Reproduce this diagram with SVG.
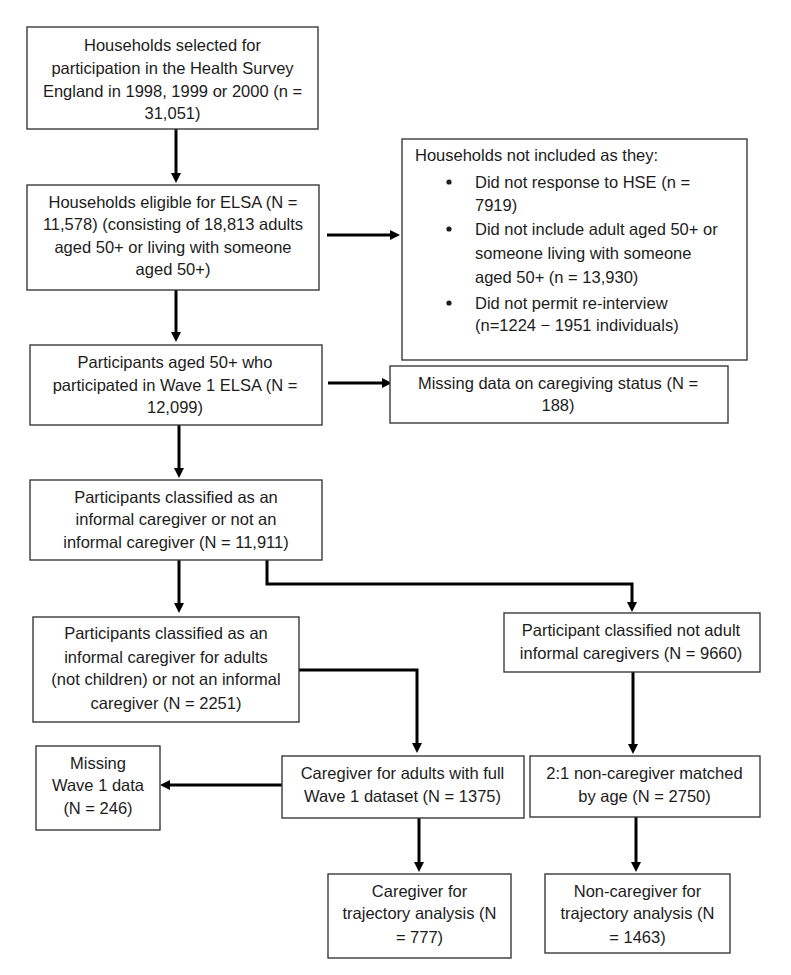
<svg xmlns="http://www.w3.org/2000/svg" width="791" height="975" viewBox="0 0 791 975">
<style>
.box{fill:#fff;stroke:#3a3a3a;stroke-width:1.4}
.t{font-family:"Liberation Sans",Arial,sans-serif;font-size:16.5px;fill:#1c1c1c;text-anchor:middle}
.tl{font-family:"Liberation Sans",Arial,sans-serif;font-size:16.5px;fill:#1c1c1c}
.c{fill:none;stroke:#000;stroke-width:3;marker-end:url(#ah)}
</style>
<defs>
<marker id="ah" markerUnits="userSpaceOnUse" viewBox="0 0 10 10" markerWidth="10" markerHeight="10" refX="1" refY="5" orient="auto">
<path d="M0,0 L10,5 L0,10 z" fill="#000"/>
</marker>
</defs>
<rect width="791" height="975" fill="#fff"/>
<g id="connectors">
<path class="c" d="M176,129 V174"/>
<path class="c" d="M327,235 H391"/>
<path class="c" d="M176,290 V333"/>
<path class="c" d="M328,383 H383"/>
<path class="c" d="M179,425 V469"/>
<path class="c" d="M267,560 V584 H632 V603"/>
<path class="c" d="M179,560 V604"/>
<path class="c" d="M299,670 H417 V744"/>
<path class="c" d="M282,785 H169"/>
<path class="c" d="M633,672 V745"/>
<path class="c" d="M419,818 V863"/>
<path class="c" d="M636,817 V863"/>
</g>
<g id="n1">
<rect class="box" x="27" y="27" width="291" height="102"/>
<text class="t" x="172.5" y="51">Households selected for</text>
<text class="t" x="172.5" y="74">participation in the Health Survey</text>
<text class="t" x="172.5" y="97">England in 1998, 1999 or 2000 (n =</text>
<text class="t" x="172.5" y="119">31,051)</text>
</g>
<g id="n2">
<rect class="box" x="27" y="185" width="292" height="105"/>
<text class="t" x="173" y="208">Households eligible for ELSA (N =</text>
<text class="t" x="173" y="230">11,578) (consisting of 18,813 adults</text>
<text class="t" x="173" y="253">aged 50+ or living with someone</text>
<text class="t" x="173" y="275">aged 50+)</text>
</g>
<g id="n3">
<rect class="box" x="402" y="139" width="345" height="221"/>
<text class="tl" x="415" y="161">Households not included as they:</text>
<circle cx="449" cy="182" r="2.6" fill="#1c1c1c"/>
<text class="tl" x="475" y="188">Did not response to HSE (n =</text>
<text class="tl" x="475" y="211">7919)</text>
<circle cx="449" cy="229" r="2.6" fill="#1c1c1c"/>
<text class="tl" x="475" y="235">Did not include adult aged 50+ or</text>
<text class="tl" x="475" y="259">someone living with someone</text>
<text class="tl" x="475" y="283">aged 50+ (n = 13,930)</text>
<circle cx="449" cy="303" r="2.6" fill="#1c1c1c"/>
<text class="tl" x="475" y="309">Did not permit re-interview</text>
<text class="tl" x="475" y="331">(n=1224 − 1951 individuals)</text>
</g>
<g id="n4">
<rect class="box" x="30" y="345" width="292" height="80"/>
<text class="t" x="175" y="368">Participants aged 50+ who</text>
<text class="t" x="175" y="391">participated in Wave 1 ELSA (N =</text>
<text class="t" x="175" y="413">12,099)</text>
</g>
<g id="n5">
<rect class="box" x="390" y="366" width="338" height="57"/>
<text class="t" x="558" y="389">Missing data on caregiving status (N =</text>
<text class="t" x="558" y="411">188)</text>
</g>
<g id="n6">
<rect class="box" x="30" y="480" width="292" height="80"/>
<text class="t" x="176" y="503">Participants classified as an</text>
<text class="t" x="176" y="525">informal caregiver or not an</text>
<text class="t" x="176" y="548">informal caregiver (N = 11,911)</text>
</g>
<g id="n7">
<rect class="box" x="504" y="613" width="256" height="59"/>
<text class="t" x="631" y="636">Participant classified not adult</text>
<text class="t" x="631" y="659">informal caregivers (N = 9660)</text>
</g>
<g id="n8">
<rect class="box" x="33" y="617" width="266" height="105"/>
<text class="t" x="166" y="639">Participants classified as an</text>
<text class="t" x="166" y="663">informal caregiver for adults</text>
<text class="t" x="166" y="685">(not children) or not an informal</text>
<text class="t" x="166" y="709">caregiver (N = 2251)</text>
</g>
<g id="n9">
<rect class="box" x="36" y="746" width="124" height="84"/>
<text class="t" x="98" y="769">Missing</text>
<text class="t" x="98" y="791">Wave 1 data</text>
<text class="t" x="98" y="814">(N = 246)</text>
</g>
<g id="n10">
<rect class="box" x="282" y="756" width="242" height="62"/>
<text class="t" x="402.5" y="779">Caregiver for adults with full</text>
<text class="t" x="402.5" y="802">Wave 1 dataset (N = 1375)</text>
</g>
<g id="n11">
<rect class="box" x="530" y="756" width="230" height="61"/>
<text class="t" x="644.5" y="779">2:1 non-caregiver matched</text>
<text class="t" x="644.5" y="802">by age (N = 2750)</text>
</g>
<g id="n12">
<rect class="box" x="328" y="874" width="183" height="84"/>
<text class="t" x="419.5" y="897">Caregiver for</text>
<text class="t" x="419.5" y="919">trajectory analysis (N</text>
<text class="t" x="419.5" y="943">= 777)</text>
</g>
<g id="n13">
<rect class="box" x="545" y="874" width="185" height="79"/>
<text class="t" x="637.5" y="897">Non-caregiver for</text>
<text class="t" x="637.5" y="919">trajectory analysis (N</text>
<text class="t" x="637.5" y="943">= 1463)</text>
</g>
</svg>
